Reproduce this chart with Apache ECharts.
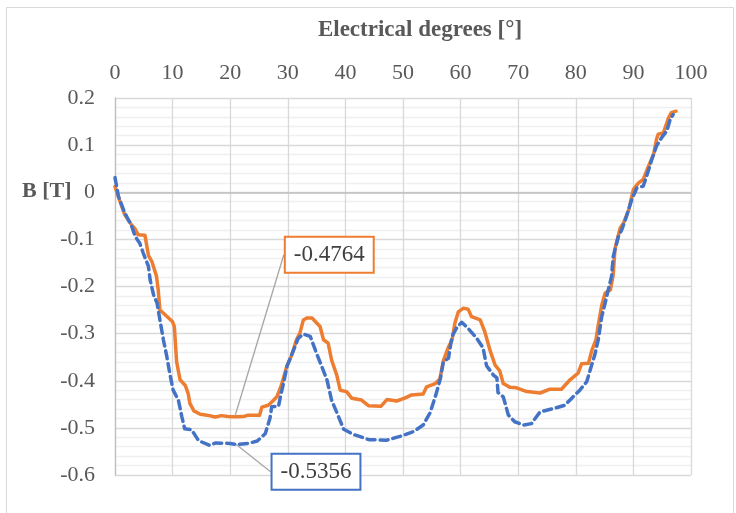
<!DOCTYPE html>
<html>
<head>
<meta charset="utf-8">
<script src="https://cdn.jsdelivr.net/npm/echarts@6/dist/echarts.min.js"></script>
<style>
  html, body { margin: 0; padding: 0; background: #fff; }
  #chart { width: 736px; height: 513px; }
</style>
</head>
<body>
<div id="chart"></div>
<script>
// Flux density B [T] against electrical angle, two traces.
const degTicks = [0, 10, 20, 30, 40, 50, 60, 70, 80, 90, 100];
const bTicks = [-0.6, -0.5, -0.4, -0.3, -0.2, -0.1, 0, 0.1, 0.2];

// solid trace
const solidDeg = [0, 0.6, 1.7, 2.8, 3.5, 4.0, 5.2, 5.8, 6.4, 7.2, 7.5, 7.8, 8.7, 10.0, 10.3, 10.7, 11.3, 12.2, 12.7, 13.0,
  13.7, 14.8, 16.0, 17.4, 18.5, 19.6, 20.8, 22.3, 23.1, 25.1, 25.5, 26.6, 27.4, 28.1, 28.9, 29.8, 30.7, 31.5, 32.1, 32.7,
  33.3, 34.2, 35.6, 36.2, 37.0, 37.6, 38.5, 39.1, 40.2, 41.1, 42.8, 44.0, 46.2, 47.2, 48.9, 50.3, 51.5, 53.5, 54.1, 55.6,
  56.4, 57.0, 57.9, 58.5, 59.0, 59.6, 60.5, 61.3, 61.9, 63.4, 64.2, 65.1, 66.0, 66.8, 67.4, 68.6, 69.7, 71.5, 73.8, 75.5,
  77.5, 79.0, 80.4, 81.0, 82.2, 82.8, 83.5, 83.9, 84.5, 85.1, 86.0, 86.5, 86.8, 87.1, 87.7, 88.3, 89.2, 90.0, 90.9, 91.7,
  92.6, 93.5, 94.0, 94.3, 95.2, 96.1, 96.6, 97.4];
const solidB = [0.012, -0.01, -0.048, -0.068, -0.078, -0.09, -0.091, -0.134, -0.147, -0.178, -0.207, -0.25, -0.26, -0.275, -0.285, -0.36, -0.398, -0.41, -0.427, -0.448,
  -0.464, -0.471, -0.473, -0.477, -0.474, -0.476, -0.4764, -0.476, -0.473, -0.473, -0.456, -0.452, -0.443, -0.434, -0.409, -0.37, -0.345, -0.313, -0.299, -0.271,
  -0.267, -0.267, -0.285, -0.313, -0.32, -0.356, -0.388, -0.42, -0.423, -0.437, -0.441, -0.453, -0.454, -0.44, -0.443, -0.437, -0.43, -0.428, -0.413, -0.406,
  -0.396, -0.358, -0.328, -0.315, -0.278, -0.254, -0.246, -0.248, -0.264, -0.271, -0.296, -0.335, -0.367, -0.379, -0.406, -0.414, -0.415, -0.423, -0.426, -0.418,
  -0.418, -0.398, -0.384, -0.364, -0.363, -0.335, -0.313, -0.282, -0.24, -0.214, -0.207, -0.175, -0.12, -0.105, -0.076, -0.065, -0.037, 0.006, 0.02, 0.027,
  0.055, 0.08, 0.112, 0.123, 0.126, 0.158, 0.169, 0.172];

// dashed trace
const dashedDeg = [0, 0.6, 1.7, 2.9, 3.5, 4.3, 4.9, 5.8, 6.1, 6.7, 7.3, 7.8, 8.4, 9.0, 9.5, 10.1, 11.0, 11.6, 12.1, 13.3,
  14.5, 16.4, 17.5, 20.0, 21.1, 23.1, 24.7, 26.1, 26.9, 27.2, 28.4, 28.6, 29.2, 29.9, 31.0, 31.8, 32.7, 33.9, 35.0, 35.9,
  36.8, 37.6, 38.8, 39.7, 41.4, 44.1, 47.2, 49.5, 51.8, 53.5, 54.7, 55.7, 56.5, 57.0, 57.9, 58.5, 59.4, 60.2, 61.3, 62.8,
  63.9, 64.5, 65.7, 66.3, 66.5, 67.4, 68.3, 69.4, 70.9, 72.3, 73.2, 73.8, 76.1, 78.1, 79.3, 80.7, 81.9, 82.5, 83.3, 83.9,
  84.5, 85.1, 85.5, 86.2, 86.5, 87.4, 88.0, 88.8, 89.7, 90.6, 91.7, 92.3, 93.2, 94.0, 94.9, 95.8, 96.4, 96.9];
const dashedB = [0.031, -0.009, -0.044, -0.072, -0.094, -0.108, -0.129, -0.157, -0.186, -0.218, -0.235, -0.271, -0.313, -0.349, -0.384, -0.42, -0.441, -0.476, -0.502, -0.504,
  -0.527, -0.537, -0.532, -0.533, -0.5356, -0.533, -0.528, -0.512, -0.48, -0.455, -0.454, -0.441, -0.408, -0.368, -0.335, -0.31, -0.301, -0.306, -0.342, -0.37,
  -0.398, -0.441, -0.476, -0.503, -0.514, -0.525, -0.526, -0.518, -0.508, -0.494, -0.468, -0.43, -0.395, -0.36, -0.352, -0.306, -0.286, -0.276, -0.289, -0.31,
  -0.33, -0.368, -0.388, -0.394, -0.425, -0.434, -0.473, -0.487, -0.494, -0.491, -0.476, -0.466, -0.459, -0.452, -0.437, -0.42, -0.402, -0.377, -0.345, -0.313,
  -0.264, -0.235, -0.214, -0.179, -0.136, -0.094, -0.079, -0.051, -0.016, 0.009, 0.013, 0.034, 0.07, 0.098, 0.116, 0.13, 0.155, 0.165];

// which sample of each trace carries a value callout
const solidCallout = 26;
const dashedCallout = 24;

const SERIF = '"Liberation Serif", "Times New Roman", serif';
const ORANGE = '#ED7D31';
const BLUE = '#4472C4';

// callout box placement relative to the annotated point
const calloutOffset = [
  { dx: 51, dy: -179, stub: 12 },
  { dx: 36, dy: 10, stub: 13 }
];

function buildData(xs, ys, calloutIdx, color) {
  return xs.map((x, i) => {
    if (i !== calloutIdx) return [x, ys[i]];
    return {
      value: [x, ys[i]],
      symbol: 'circle',
      symbolSize: 1,
      itemStyle: { color: color },
      label: {
        show: true,
        position: 'top',
        formatter: String(ys[i]),
        fontFamily: SERIF,
        fontSize: 23,
        color: '#404040',
        backgroundColor: '#fff',
        borderColor: color,
        borderWidth: 2,
        padding: [6, 8, 5, 8]
      },
      labelLine: { show: true, lineStyle: { color: '#a6a6a6', width: 1.3 } }
    };
  });
}

function calloutLayout(p) {
  const cx = p.rect.x + p.rect.width / 2;
  const cy = p.rect.y + p.rect.height / 2;
  const o = calloutOffset[p.seriesIndex];
  const left = cx + o.dx;
  const top = cy + o.dy;
  const midY = top + p.labelRect.height / 2;
  return {
    x: left, y: top, align: 'left', verticalAlign: 'top',
    labelLinePoints: [[cx, cy], [left - o.stub, midY], [left, midY]]
  };
}

const chart = echarts.init(document.getElementById('chart'), null, { renderer: 'canvas' });

chart.setOption({
  animation: false,
  backgroundColor: '#fff',
  textStyle: { fontFamily: SERIF },
  grid: { left: 115, right: 45, top: 98, bottom: 38, containLabel: false },
  graphic: [
    {
      type: 'rect', silent: true, z: -10,
      shape: { x: 6.5, y: 7.5, width: 727, height: 520 },
      style: { fill: 'none', stroke: '#d9d9d9', lineWidth: 1 }
    },
    {
      type: 'text', left: 22, top: 180,
      style: { text: 'B [T]', font: 'bold 22px ' + SERIF, fill: '#595959' }
    }
  ],
  xAxis: {
    type: 'value',
    position: 'top',
    min: degTicks[0],
    max: degTicks[degTicks.length - 1],
    interval: 10,
    name: 'Electrical degrees [°]',
    nameLocation: 'middle',
    nameGap: 56,
    nameTextStyle: { fontFamily: SERIF, fontSize: 23, fontWeight: 'bold', color: '#595959', padding: [0, 0, 0, 34] },
    axisLine: { show: false },
    axisTick: { show: false },
    axisLabel: { fontFamily: SERIF, fontSize: 22, color: '#595959', margin: 14 },
    splitLine: { show: true, lineStyle: { color: '#d9d9d9', width: 1.3 } }
  },
  yAxis: {
    type: 'value',
    min: bTicks[0],
    max: bTicks[bTicks.length - 1],
    interval: 0.1,
    axisLine: { show: true, lineStyle: { color: '#bfbfbf', width: 1.3 } },
    axisTick: { show: false },
    axisLabel: { fontFamily: SERIF, fontSize: 22, color: '#595959', margin: 20 },
    splitLine: { show: true, lineStyle: { color: '#d9d9d9', width: 1.3 } },
    minorTick: { show: false, splitNumber: 5 },
    minorSplitLine: { show: true, lineStyle: { color: '#f0f0f0', width: 1.3 } }
  },
  series: [
    {
      type: 'line',
      name: 'solid',
      data: buildData(solidDeg, solidB, solidCallout, ORANGE),
      symbol: 'none',
      showSymbol: true,
      lineStyle: { color: ORANGE, width: 3.5, join: 'round', cap: 'round' },
      labelLayout: calloutLayout,
      markLine: {
        silent: true,
        symbol: 'none',
        label: { show: false },
        lineStyle: { color: '#bfbfbf', width: 1.6, type: 'solid' },
        data: [{ yAxis: 0 }],
        z: 1
      },
      z: 3
    },
    {
      type: 'line',
      name: 'dashed',
      data: buildData(dashedDeg, dashedB, dashedCallout, BLUE),
      symbol: 'none',
      showSymbol: true,
      lineStyle: { color: BLUE, width: 3.5, type: [8, 5], join: 'round', cap: 'round' },
      labelLayout: calloutLayout,
      z: 4
    }
  ]
});
</script>
</body>
</html>
